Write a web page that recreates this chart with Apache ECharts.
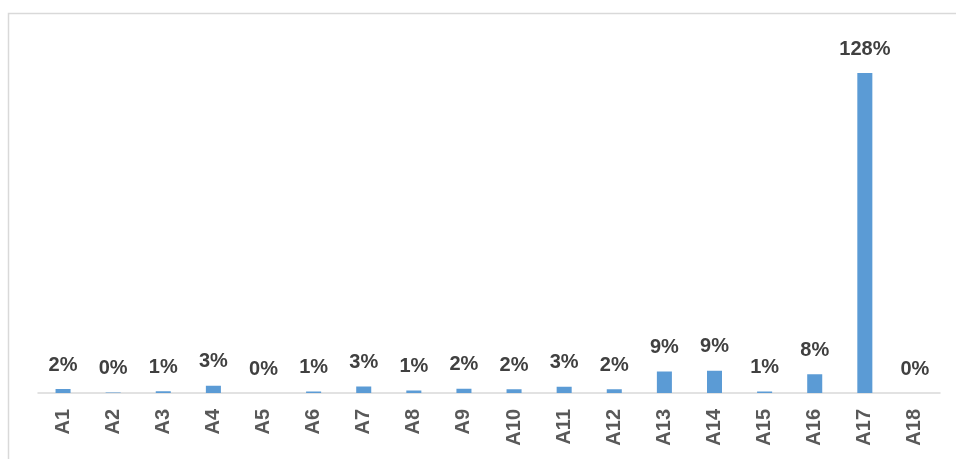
<!DOCTYPE html>
<html><head><meta charset="utf-8">
<script src="https://cdn.jsdelivr.net/npm/echarts@6/dist/echarts.min.js"></script>
<style>html,body{margin:0;padding:0;background:#fff}#c{width:956px;height:459px}</style>
</head><body><div id="c"></div>
<script>
const categories = ['A1','A2','A3','A4','A5','A6','A7','A8','A9','A10','A11','A12','A13','A14','A15','A16','A17','A18'];
const values = [1.6, 0.2, 0.7, 2.9, 0, 0.6, 2.6, 1.0, 1.7, 1.5, 2.5, 1.5, 8.6, 8.9, 0.6, 7.5, 128, 0];
const chart = echarts.init(document.getElementById('c'));
chart.setOption({
  animation: false,
  graphic: [{type:'rect', shape:{x:8.5, y:13.5, width:1200, height:1200}, style:{fill:'none', stroke:'#d9d9d9', lineWidth:1.5}, silent:true}],
  grid: {left:38, right:16, top:43, bottom:66},
  xAxis: {
    type:'category', data: categories,
    axisLine:{lineStyle:{color:'#d9d9d9', width:1.5}},
    axisTick:{show:false},
    axisLabel:{rotate:90, margin:16, color:'#595959', fontFamily:'Liberation Sans', fontWeight:'bold', fontSize:20, interval:0}
  },
  yAxis: {type:'value', min:0, max:140, show:false, splitLine:{show:false}},
  series: [{
    type:'bar', data: values, barWidth:'30%',
    itemStyle:{color:'#5B9BD5'},
    label:{show:true, position:'top', distance:14, color:'#404040', fontFamily:'Liberation Sans', fontWeight:'bold', fontSize:20,
      formatter: p => Math.round(p.value) + '%'}
  }]
});
</script></body></html>
